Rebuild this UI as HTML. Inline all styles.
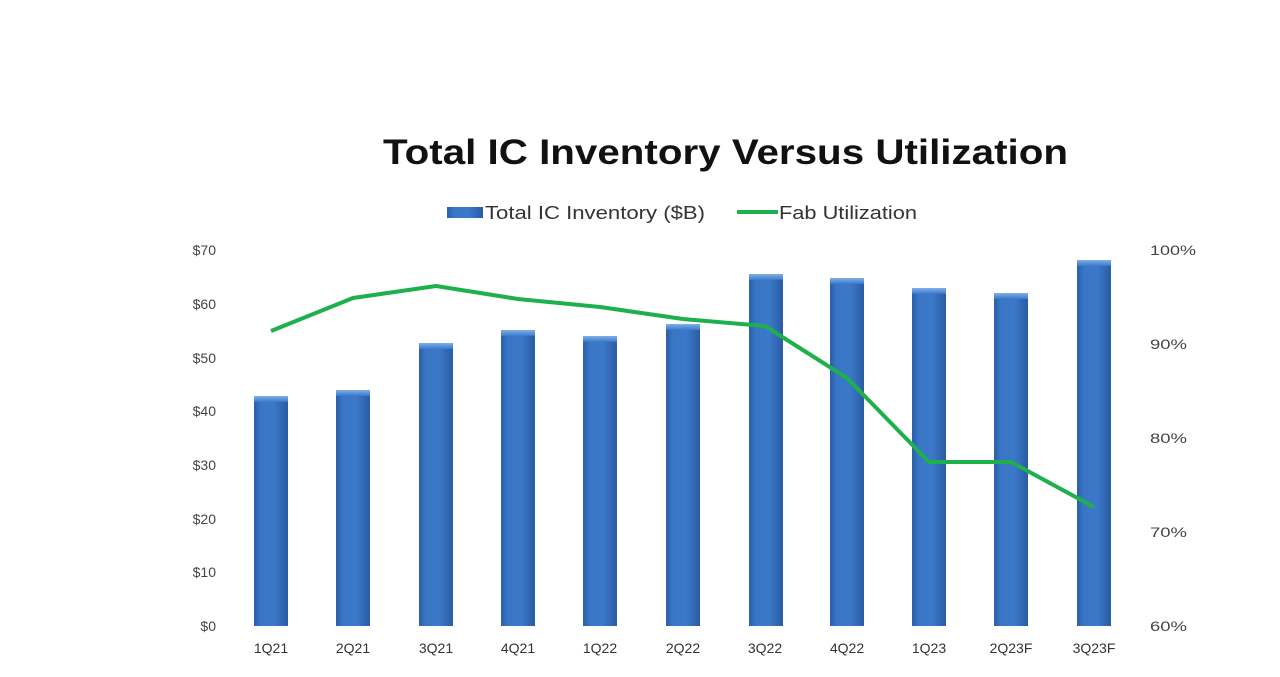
<!DOCTYPE html>
<html><head><meta charset="utf-8"><style>
html,body{margin:0;padding:0;background:#fff;}
body{width:1280px;height:672px;overflow:hidden;font-family:"Liberation Sans",sans-serif;}
</style></head><body>
<svg width="1280" height="672" viewBox="0 0 1280 672" xmlns="http://www.w3.org/2000/svg">
<defs>
<linearGradient id="bg" x1="0" x2="1" y1="0" y2="0">
<stop offset="0" stop-color="#2a5ea8"/><stop offset="0.2" stop-color="#3a76c6"/><stop offset="0.6" stop-color="#3b78c8"/><stop offset="1" stop-color="#2a5ca3"/>
</linearGradient>
<linearGradient id="tg" x1="0" x2="0" y1="0" y2="1">
<stop offset="0" stop-color="#7fb0ea"/><stop offset="1" stop-color="#3b78c8"/>
</linearGradient>
</defs>
<text x="383" y="164" font-size="35" font-weight="bold" fill="#111" textLength="685" lengthAdjust="spacingAndGlyphs">Total IC Inventory Versus Utilization</text>
<rect x="447" y="207" width="36" height="11" fill="url(#bg)"/>
<text x="485" y="219" font-size="18" fill="#333" textLength="220" lengthAdjust="spacingAndGlyphs">Total IC Inventory ($B)</text>
<line x1="737" y1="212" x2="778" y2="212" stroke="#1fb04e" stroke-width="4"/>
<text x="779" y="219" font-size="18" fill="#333" textLength="138" lengthAdjust="spacingAndGlyphs">Fab Utilization</text>
<g font-size="14" fill="#444" text-anchor="end">
<text x="216" y="255">$70</text><text x="216" y="309">$60</text><text x="216" y="363">$50</text><text x="216" y="416">$40</text>
<text x="216" y="470">$30</text><text x="216" y="524">$20</text><text x="216" y="577">$10</text><text x="216" y="631">$0</text>
</g>
<g font-size="14" fill="#444">
<text x="1150" y="255" textLength="46" lengthAdjust="spacingAndGlyphs">100%</text><text x="1150" y="349" textLength="37" lengthAdjust="spacingAndGlyphs">90%</text><text x="1150" y="443" textLength="37" lengthAdjust="spacingAndGlyphs">80%</text><text x="1150" y="537" textLength="37" lengthAdjust="spacingAndGlyphs">70%</text><text x="1150" y="631" textLength="37" lengthAdjust="spacingAndGlyphs">60%</text>
</g>
<g>
<rect x="254" y="396" width="34" height="230" fill="url(#bg)"/><rect x="254" y="396" width="34" height="6" fill="url(#tg)"/>
<rect x="336" y="390" width="34" height="236" fill="url(#bg)"/><rect x="336" y="390" width="34" height="6" fill="url(#tg)"/>
<rect x="419" y="343" width="34" height="283" fill="url(#bg)"/><rect x="419" y="343" width="34" height="6" fill="url(#tg)"/>
<rect x="501" y="330" width="34" height="296" fill="url(#bg)"/><rect x="501" y="330" width="34" height="6" fill="url(#tg)"/>
<rect x="583" y="336" width="34" height="290" fill="url(#bg)"/><rect x="583" y="336" width="34" height="6" fill="url(#tg)"/>
<rect x="666" y="324" width="34" height="302" fill="url(#bg)"/><rect x="666" y="324" width="34" height="6" fill="url(#tg)"/>
<rect x="749" y="274" width="34" height="352" fill="url(#bg)"/><rect x="749" y="274" width="34" height="6" fill="url(#tg)"/>
<rect x="830" y="278" width="34" height="348" fill="url(#bg)"/><rect x="830" y="278" width="34" height="6" fill="url(#tg)"/>
<rect x="912" y="288" width="34" height="338" fill="url(#bg)"/><rect x="912" y="288" width="34" height="6" fill="url(#tg)"/>
<rect x="994" y="293" width="34" height="333" fill="url(#bg)"/><rect x="994" y="293" width="34" height="6" fill="url(#tg)"/>
<rect x="1077" y="260" width="34" height="366" fill="url(#bg)"/><rect x="1077" y="260" width="34" height="6" fill="url(#tg)"/>
</g>
<polyline fill="none" stroke="#1fb04e" stroke-width="4" stroke-linejoin="round" points="271,331 353,298 436,286 518,299 600,307 683,319 765,326 847,378 929,462 1011,462 1094,507"/>
<g font-size="14" fill="#333" text-anchor="middle">
<text x="271" y="653">1Q21</text><text x="353" y="653">2Q21</text><text x="436" y="653">3Q21</text><text x="518" y="653">4Q21</text>
<text x="600" y="653">1Q22</text><text x="683" y="653">2Q22</text><text x="765" y="653">3Q22</text><text x="847" y="653">4Q22</text>
<text x="929" y="653">1Q23</text><text x="1011" y="653">2Q23F</text><text x="1094" y="653">3Q23F</text>
</g>
</svg>
</body></html>
